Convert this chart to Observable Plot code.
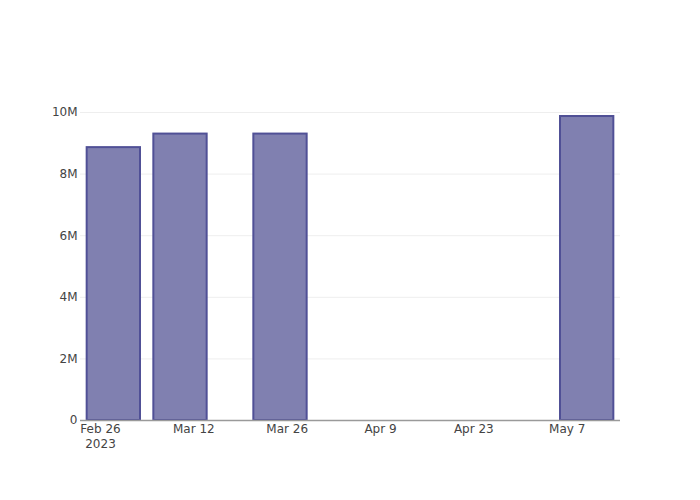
<!DOCTYPE html>
<html>
<head>
<meta charset="utf-8">
<script src="https://cdn.jsdelivr.net/npm/d3@7"></script>
<script src="https://cdn.jsdelivr.net/npm/@observablehq/plot@0.6"></script>
<style>
  html, body { margin: 0; padding: 0; background: #fff; }
  #chart { width: 700px; height: 500px; }
</style>
</head>
<body>
<div id="chart"></div>
<script>
// Data
const dates = ["2023-02-28", "2023-03-10", "2023-03-25", "2023-05-10"];
const values = [8.86e6, 9.30e6, 9.30e6, 9.87e6];
const tickDates = ["2023-02-26", "2023-03-12", "2023-03-26", "2023-04-09", "2023-04-23", "2023-05-07"];
const tickLabels = ["Feb 26\n2023", "Mar 12", "Mar 26", "Apr 9", "Apr 23", "May 7"];
const yTicks = [0, 2e6, 4e6, 6e6, 8e6, 10e6];
const yTickLabels = ["0", "2M", "4M", "6M", "8M", "10M"];

const DAY = 86400000;
const halfWidth = 4 * DAY; // bar half-width (8 days)
const rows = dates.map((d, i) => {
  const t = new Date(d + "T00:00:00Z");
  return {x1: new Date(+t - halfWidth), x2: new Date(+t + halfWidth), y: values[i]};
});
const tickVals = tickDates.map(d => new Date(d + "T00:00:00Z"));
const labelOf = new Map(tickVals.map((d, i) => [+d, tickLabels[i]]));
const yLabelOf = new Map(yTicks.map((v, i) => [v, yTickLabels[i]]));

const chart = Plot.plot({
  width: 700,
  height: 500,
  marginLeft: 80,
  marginRight: 80,
  marginTop: 100,
  marginBottom: 80,
  style: {fontFamily: "'DejaVu Sans', sans-serif", fontSize: "12px", color: "#444", background: "#fff"},
  x: {
    type: "utc",
    domain: [new Date("2023-02-23T00:00:00Z"), new Date("2023-05-15T00:00:00Z")],
    label: null
  },
  y: {
    domain: [0, 10.39e6],
    label: null
  },
  marks: [
    Plot.gridY(yTicks.filter(v => v > 0), {stroke: "#eeeeee", strokeOpacity: 1, strokeWidth: 1}),
    Plot.rectY(rows, {x1: "x1", x2: "x2", y: "y", fill: "#8080b0", stroke: "#505096", strokeWidth: 2}),
    Plot.ruleY([0], {stroke: "#9a9a9a", strokeWidth: 1.5}),
    Plot.axisX(tickVals, {tickFormat: d => labelOf.get(+d), tickSize: 0, tickPadding: 2, lineHeight: 1.25, fill: "#444", label: null}),
    Plot.axisY(yTicks, {tickFormat: v => yLabelOf.get(v), tickSize: 0, tickPadding: 3, fill: "#444", label: null})
  ]
});
document.getElementById("chart").appendChild(chart);
</script>
</body>
</html>
